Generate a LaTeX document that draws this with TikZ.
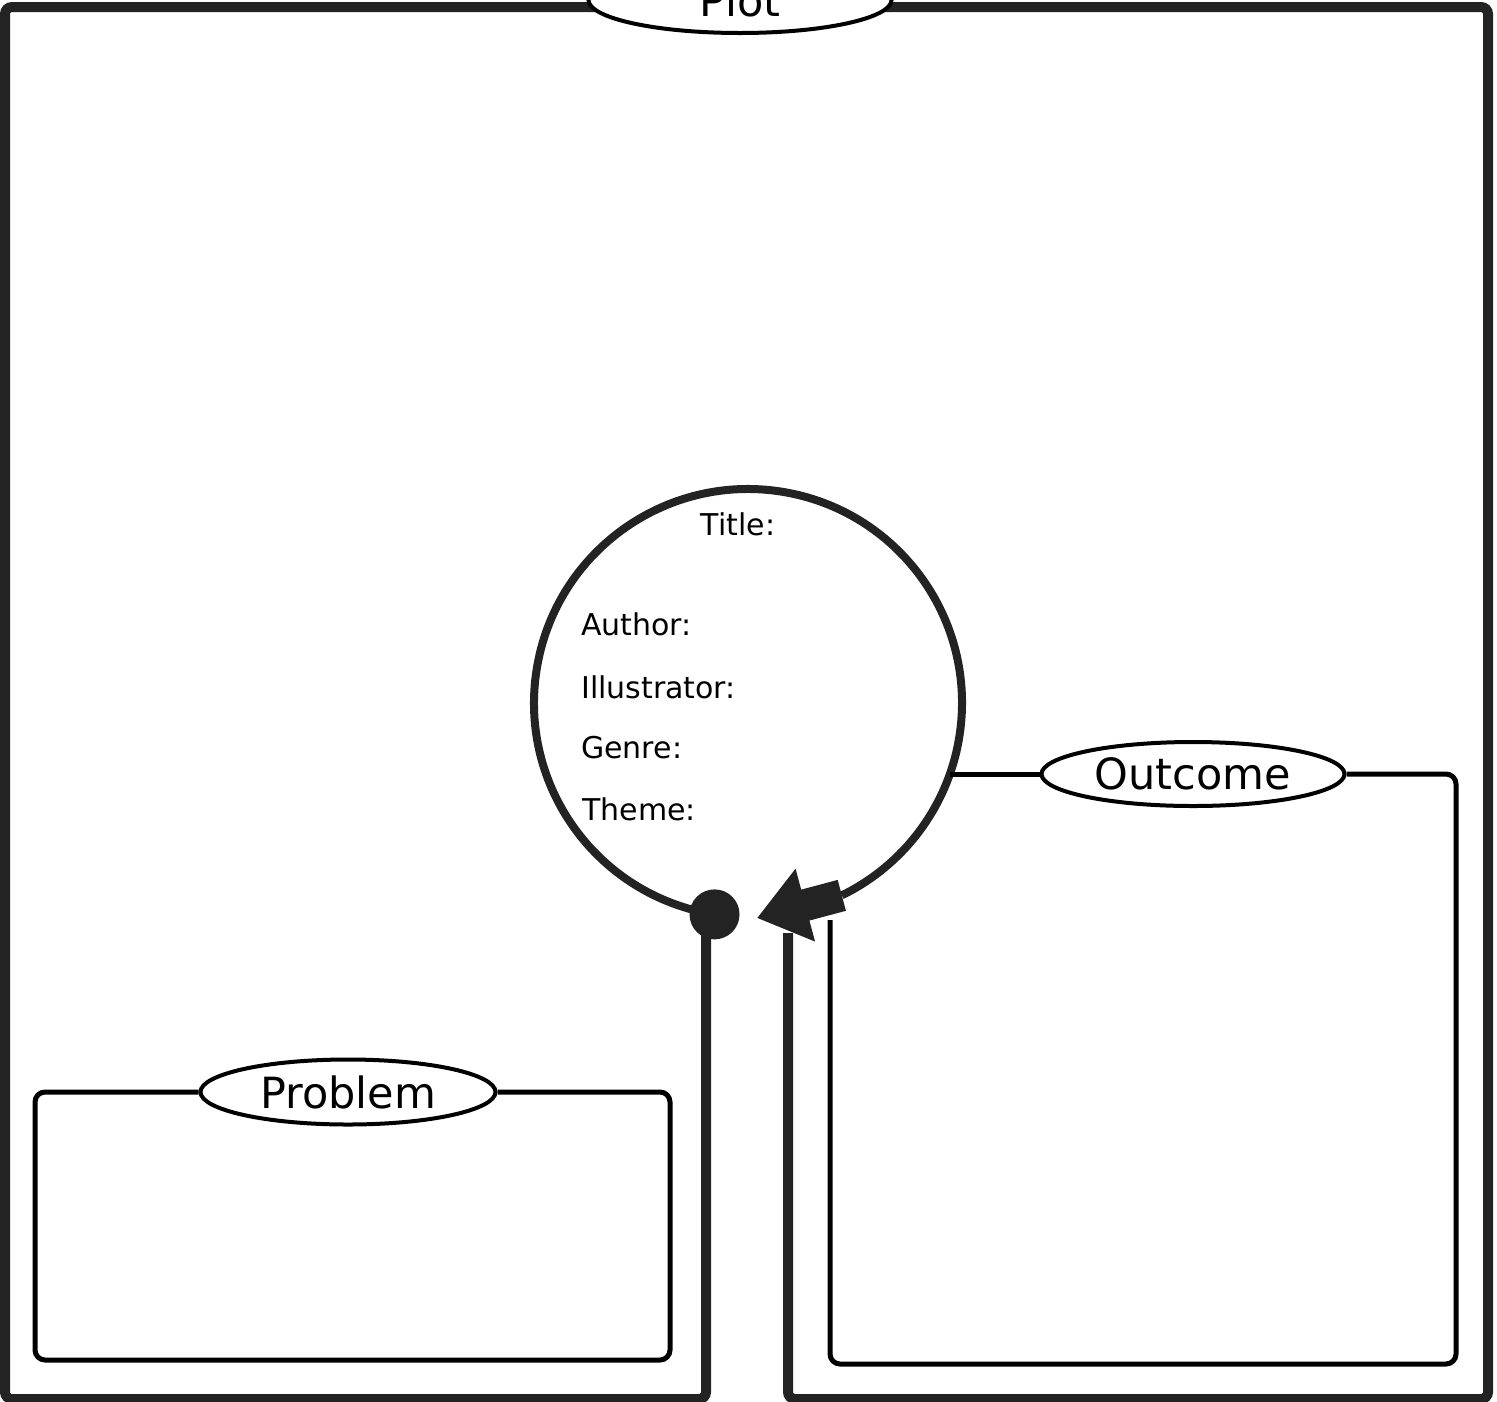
\documentclass[tikz,border=0pt]{standalone}
\usepackage{fontspec}
\setmainfont{DejaVu Sans}
\usetikzlibrary{shapes.geometric, arrows.meta}
\begin{document}
\begin{tikzpicture}[x=1pt, y=-1pt,
    frameLine/.style={lineDark, line width=10pt, rounded corners=7pt},
    boxLine/.style={black, line width=5pt, rounded corners=10pt},
    tagEllipse/.style={ellipse, draw=black, line width=4pt, fill=white,
        minimum width=303pt, minimum height=64pt, inner sep=0pt,
        font=\fontsize{43}{46}\selectfont},
    fieldText/.style={font=\fontsize{30}{33}\selectfont, inner sep=0pt},
    dotNode/.style={circle, fill=lineDark, minimum size=50pt, inner sep=0pt},
    blockArrow/.style={lineDark, line width=32pt,
        -{Triangle[length=50pt, width=72pt]}}]
        % Colours
        \definecolor{lineDark}{RGB}{35, 35, 35}

        \useasboundingbox (0,0) rectangle (1497,1401);
        \clip (0,0) rectangle (1497,1401);

        % Points
        \coordinate (hub) at (748,703);
        \coordinate (leftFoot) at (706,1399);
        \coordinate (rightFoot) at (788,1399);
        \coordinate (arrowTip) at (757,918);
        \coordinate (outJoin) at (950,774);

        % Circle with dot and arrow
        \node[dotNode] (dot) at ([shift={(99:214)}]hub) {};
        \draw[lineDark, line width=8pt] (dot.center)
            arc[start angle=99, end angle=424, radius=214] coordinate (arcEnd);
        \draw[blockArrow] (arcEnd) -- (arrowTip);

        % Outer frame
        \draw[frameLine] (dot.center -| leftFoot) -- (leftFoot) -- (5,1399)
            -- (5,7) -- (1488,7) -- (1488,1399) -- (rightFoot) -- (788,933);

        % Headings
        \node[tagEllipse, minimum height=66pt] (plot) at (740,0) {Plot};
        \node[tagEllipse] (outcome) at (1193,774) {Outcome};
        \node[tagEllipse, minimum width=295pt, minimum height=65pt] (problem) at (348,1092) {Problem};

        % Boxes
        \draw[boxLine] (outJoin) -- (outcome.west);
        \draw[boxLine] (outcome.east) -- (1456,774) -- (1456,1364)
            -- (830,1364) -- (830,920);
        \draw[boxLine] (problem.west) -- (35,1092) -- (35,1360)
            -- (670,1360) -- (670,1092) -- (problem.east);

        % Fields
        \node[fieldText, anchor=base] (title) at (738,535) {Title:};
        \node[fieldText, anchor=base west] (author) at (581,635) {Author:};
        \node[fieldText, anchor=base west] (illustrator) at (581,698) {Illustrator:};
        \node[fieldText, anchor=base west] (genre) at (581,758) {Genre:};
        \node[fieldText, anchor=base west] (theme) at (582,820) {Theme:};
\end{tikzpicture}
\end{document}
